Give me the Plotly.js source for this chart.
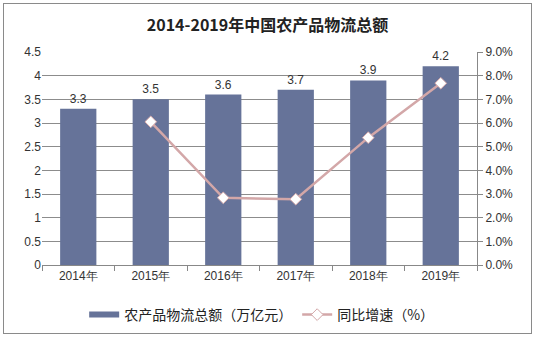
<!DOCTYPE html>
<html><head><meta charset="utf-8">
<script src="https://cdn.plot.ly/plotly-3.0.1.min.js"></script>
<style>body{margin:0;padding:0;background:#fff}#c{width:535px;height:338px}#b{position:absolute;left:3px;top:3px;width:527px;height:329px;border:1px solid #8a8a8a;pointer-events:none}</style>
</head><body><div id="c"></div><div id="b"></div>
<script>
const years = ['2014年','2015年','2016年','2017年','2018年','2019年'];
const totals = [3.3, 3.5, 3.6, 3.7, 3.9, 4.2];
const growthYears = ['2015年','2016年','2017年','2018年','2019年'];
const growth = [0.0605, 0.0284, 0.0278, 0.0538, 0.0768];
const leftTicks = [0,0.5,1,1.5,2,2.5,3,3.5,4,4.5];
const rightTicks = [0,0.01,0.02,0.03,0.04,0.05,0.06,0.07,0.08,0.09];

const barColor = '#667399';
const lineColor = '#d3a7a8';
const tickFont = {family:'Liberation Sans, Arial, sans-serif', size:12, color:'#333'};
const data = [
 {type:'bar', x:years, y:totals, name:'农产品物流总额（万亿元）', marker:{color:barColor}, width:0.5, showlegend:false,
  text:totals.map(v=>v.toFixed(1)), textposition:'outside', cliponaxis:false,
  textfont:{family:'Liberation Sans, Arial, sans-serif', size:12, color:'#333'}},
 {type:'scatter', mode:'lines', x:[null], y:[null], name:'农产品物流总额（万亿元）',
  line:{color:barColor, width:6}},
 {type:'scatter', mode:'lines+markers', x:growthYears, y:growth, yaxis:'y2', name:'同比增速（%）',
  line:{color:lineColor, width:2.5}, marker:{symbol:'diamond', size:9, color:'#ffffff', line:{color:lineColor, width:1}}}
];
const layout = {
 width:535, height:338, margin:{l:42, r:58, t:52, b:73, autoexpand:false},
 paper_bgcolor:'rgba(0,0,0,0)', plot_bgcolor:'#fff',
 title:{text:'2014-2019年中国农产品物流总额', x:0.5, xanchor:'center', y:0.925, yanchor:'middle',
   font:{family:'Noto Sans CJK SC, sans-serif', size:16, color:'#222', weight:'bold'}},
 showlegend:true,
 legend:{orientation:'h', x:0.505, xanchor:'center', yref:'container', y:0.068, yanchor:'middle',
   font:{family:'Noto Sans CJK SC, sans-serif', size:14, color:'#222'}, itemwidth:30},
 xaxis:{type:'category', tickfont:tickFont, showline:true, linecolor:'#888', ticks:'outside', tickson:'boundaries',
   ticklen:5, tickcolor:'#888', showgrid:false, fixedrange:true},
 yaxis:{range:[0,4.5], tickvals:leftTicks, ticktext:leftTicks.map(String), tickfont:tickFont,
   showgrid:true, gridcolor:'#8c8c8c', gridwidth:1, zeroline:false, showline:false, ticks:'', fixedrange:true},
 yaxis2:{range:[0,0.09], overlaying:'y', side:'right', tickvals:rightTicks,
   ticktext:rightTicks.map(v=>(v*100).toFixed(1)+'%'), tickfont:tickFont, showgrid:false, zeroline:false,
   showline:true, linecolor:'#888', ticks:'outside', ticklen:5, tickcolor:'#888', fixedrange:true}
};
Plotly.newPlot('c', data, layout, {displayModeBar:false, staticPlot:true});
</script></body></html>
